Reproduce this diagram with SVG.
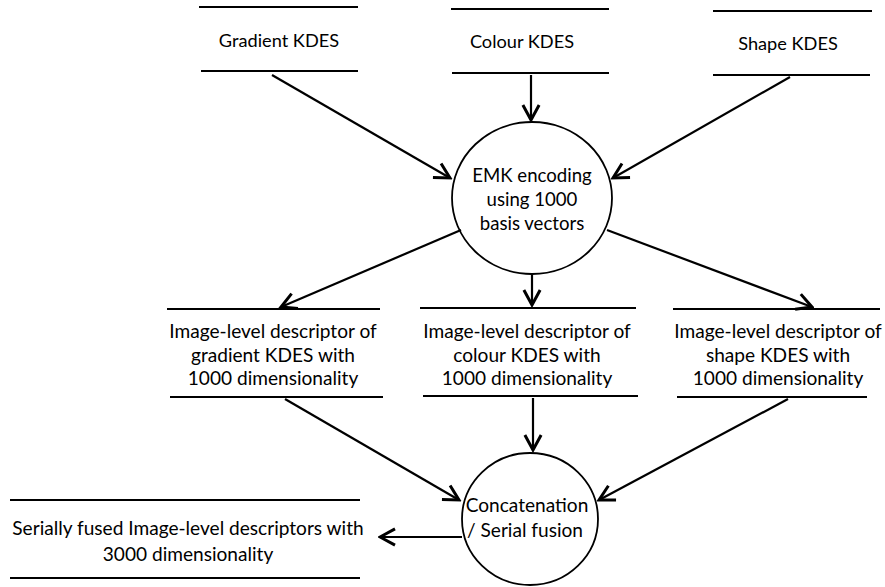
<svg xmlns="http://www.w3.org/2000/svg" width="885" height="587" viewBox="0 0 885 587">
<style>
  text { font-family: Lato, "Liberation Sans", Arial, sans-serif; fill: #000; text-anchor: middle; }
  .t17 { font-size: 18.2px; }
  .t18 { font-size: 18.6px; }
  .t19 { font-size: 19.1px; }
  .rule { stroke: #000; stroke-width: 2; fill: none; }
  .shape { stroke: #000; stroke-width: 1.8; fill: #fff; }
  .conn { stroke: #000; stroke-width: 2.2; fill: none; marker-end: url(#arr); }
</style>
<defs>
  <marker id="arr" markerUnits="userSpaceOnUse" markerWidth="20" markerHeight="20" viewBox="-14 -8 16 16" refX="0" refY="0" orient="auto">
    <path d="M-12,-6.5 L0,0 L-12,6.5" fill="none" stroke="#000" stroke-width="2.4" stroke-linejoin="miter"/>
  </marker>
</defs>
<rect width="885" height="587" fill="#fff"/>

<g id="gradient-kdes">
  <line class="rule" x1="199" y1="7" x2="358" y2="7"/>
  <line class="rule" x1="201" y1="71" x2="358" y2="71"/>
  <text class="t17" x="279" y="47">Gradient KDES</text>
</g>
<g id="colour-kdes">
  <line class="rule" x1="451" y1="9" x2="609" y2="9"/>
  <line class="rule" x1="452" y1="73" x2="609" y2="73"/>
  <text class="t17" x="522" y="48">Colour KDES</text>
</g>
<g id="shape-kdes">
  <line class="rule" x1="713" y1="11" x2="872" y2="11"/>
  <line class="rule" x1="713" y1="75" x2="870" y2="75"/>
  <text class="t17" x="788" y="50">Shape KDES</text>
</g>

<g id="emk-encoding">
  <ellipse class="shape" cx="532" cy="198" rx="80" ry="76"/>
  <text class="t18" x="532" y="182">EMK encoding</text>
  <text class="t18" x="532" y="206">using 1000</text>
  <text class="t18" x="532" y="230">basis vectors</text>
</g>

<g id="gradient-descriptor">
  <line class="rule" x1="167" y1="309" x2="380" y2="309"/>
  <line class="rule" x1="170" y1="397" x2="383" y2="397"/>
  <text class="t19" x="273" y="338">Image-level descriptor of</text>
  <text class="t19" x="273" y="362">gradient KDES with</text>
  <text class="t19" x="273" y="385">1000 dimensionality</text>
</g>
<g id="colour-descriptor">
  <line class="rule" x1="420" y1="308" x2="636" y2="308"/>
  <line class="rule" x1="423" y1="396" x2="638" y2="396"/>
  <text class="t19" x="527" y="338">Image-level descriptor of</text>
  <text class="t19" x="527" y="362">colour KDES with</text>
  <text class="t19" x="527" y="385">1000 dimensionality</text>
</g>
<g id="shape-descriptor">
  <line class="rule" x1="673" y1="309" x2="880" y2="309"/>
  <line class="rule" x1="677" y1="397" x2="867" y2="397"/>
  <text class="t19" x="778" y="338">Image-level descriptor of</text>
  <text class="t19" x="778" y="362">shape KDES with</text>
  <text class="t19" x="778" y="385">1000 dimensionality</text>
</g>

<g id="concatenation">
  <ellipse class="shape" cx="530" cy="519" rx="68" ry="66"/>
  <text class="t19" x="527" y="512">Concatenation</text>
  <text class="t19" x="525" y="537">/ Serial fusion</text>
</g>

<g id="fused-descriptor">
  <line class="rule" x1="10" y1="500" x2="360" y2="500"/>
  <line class="rule" x1="10" y1="578" x2="360" y2="578"/>
  <text class="t19" x="188" y="535">Serially fused Image-level descriptors with</text>
  <text class="t19" x="188" y="561">3000 dimensionality</text>
</g>

<g id="connectors">
  <line class="conn" x1="272" y1="75" x2="450" y2="178"/>
  <line class="conn" x1="531" y1="75" x2="531" y2="120"/>
  <line class="conn" x1="790" y1="77" x2="613" y2="178"/>
  <line class="conn" x1="461" y1="230" x2="281" y2="307"/>
  <line class="conn" x1="532" y1="274" x2="532" y2="305"/>
  <line class="conn" x1="607" y1="230" x2="812" y2="307"/>
  <line class="conn" x1="285" y1="399" x2="459" y2="500"/>
  <line class="conn" x1="533" y1="398" x2="533" y2="450"/>
  <line class="conn" x1="788" y1="399" x2="599" y2="500"/>
  <line class="conn" x1="462" y1="537" x2="380" y2="537"/>
</g>
</svg>
